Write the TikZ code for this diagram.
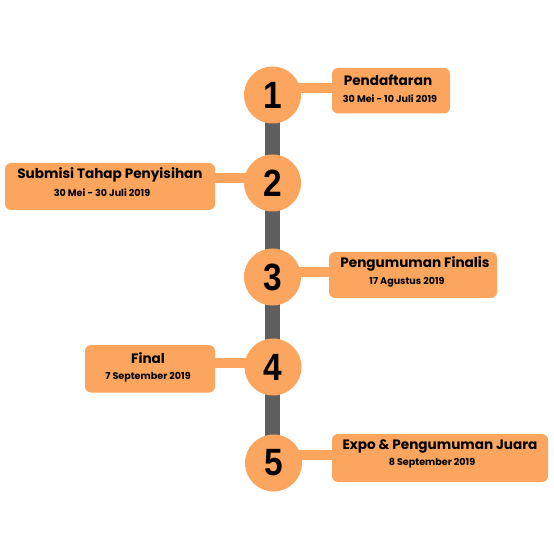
\documentclass[tikz,border=0pt]{standalone}
\usepackage{fontspec}
\setmainfont{Poppins}
\newfontfamily\numfont{Liberation Sans}
\definecolor{orng}{HTML}{FBA55E}
\definecolor{barg}{HTML}{5E5E5E}
\begin{document}
\begin{tikzpicture}[x=1pt,y=-1pt,
  evbox/.style={fill=orng,rounded corners=6pt,draw=none},
  numc/.style={circle,fill=orng,minimum size=57pt,inner sep=0pt,font=\numfont\bfseries\fontsize{38}{38}\selectfont},
  ttl/.style={font=\bfseries\fontsize{13.6}{14}\selectfont,inner sep=0pt},
  dte/.style={font=\bfseries\fontsize{9.6}{10}\selectfont,inner sep=0pt},
  conn/.style={orng,line width=10pt}]
\useasboundingbox (0,0) rectangle (554,553);
% vertical bar
\coordinate (bartop) at (272.5,100);
\coordinate (barbot) at (272.5,460);
\draw[barg,line width=15pt] (bartop) -- (barbot);
% boxes
\path[evbox] (332,68) rectangle (450,113.5);
\path[evbox] (5,163) rectangle (215,210);
\path[evbox] (329,252) rectangle (497,298);
\path[evbox] (85,345) rectangle (215,392.5);
\path[evbox] (332,434) rectangle (548,482);
% connectors
\coordinate (b1) at (340,88); \coordinate (b2) at (205,178);
\coordinate (b3) at (340,272.5); \coordinate (b4) at (205,363);
\coordinate (b5) at (340,454.5);
\node[numc] (c1) at (272.5,95) {\scalebox{0.88}[1]{1}};
\node[numc] (c2) at (272.5,183) {\scalebox{0.88}[1]{2}};
\node[numc] (c3) at (272.5,277) {\scalebox{0.88}[1]{3}};
\node[numc] (c4) at (273,367) {\scalebox{0.88}[1]{4}};
\node[numc] (c5) at (273.5,463) {\scalebox{0.88}[1]{5}};
\draw[conn] (c1.center |- b1) ++(20,0) -- (b1);
\draw[conn] (c2.center |- b2) ++(-20,0) -- (b2);
\draw[conn] (c3.center |- b3) ++(20,0) -- (b3);
\draw[conn] (c4.center |- b4) ++(-20,0) -- (b4);
\draw[conn] (c5.center |- b5) ++(20,0) -- (b5);
% texts
\node[ttl] (t1) at (388,80) {Pendaftaran};
\node[dte] (d1) at (390,99) {30 Mei - 10 Juli 2019};
\node[ttl] (t2) at (110,175) {Submisi Tahap Penyisihan};
\node[dte] (d2) at (102,193) {30 Mei - 30 Juli 2019};
\node[ttl] (t3) at (415,263.5) {Pengumuman Finalis};
\node[dte] (d3) at (407,282) {17 Agustus 2019};
\node[ttl] (t4) at (148,358) {Final};
\node[dte] (d4) at (148,377) {7 September 2019};
\node[ttl] (t5) at (440,446) {Expo \& Pengumuman Juara};
\node[dte] (d5) at (432,463) {8 September 2019};
\end{tikzpicture}
\end{document}
